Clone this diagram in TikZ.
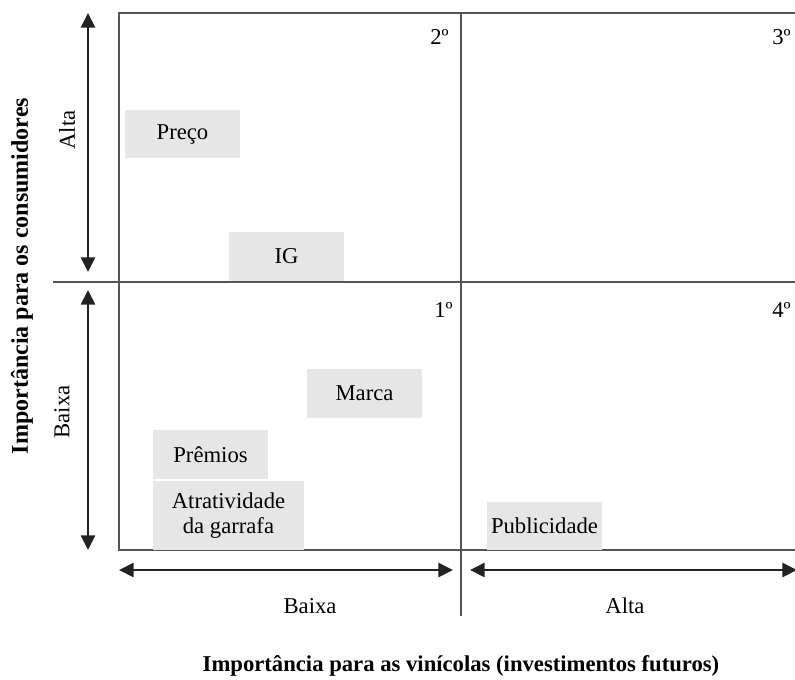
\documentclass[tikz,border=0pt]{standalone}
\usepackage{fontspec}
\setmainfont{Liberation Serif}
\usetikzlibrary{arrows.meta}
\definecolor{boxgray}{HTML}{E6E6E7}
\definecolor{framegray}{HTML}{555555}
\definecolor{arrowblack}{HTML}{222222}
\tikzset{
  qbox/.style={fill=boxgray, inner sep=0pt, align=center, font=\fontsize{17}{19}\selectfont},
  lbl/.style={inner sep=0pt, font=\fontsize{17}{19}\selectfont},
  ttl/.style={inner sep=0pt, font=\fontsize{17}{19}\selectfont\bfseries},
  frameline/.style={draw=framegray, line width=1.1pt},
  dblarrow/.style={draw=arrowblack, line width=2pt, {Triangle[width=10.5pt,length=11pt]}-{Triangle[width=10.5pt,length=11pt]}}
}
\begin{document}
\begin{tikzpicture}[x=0.75pt, y=-0.75pt]
\useasboundingbox (0,0) rectangle (795,679);
% frame
\draw[frameline] (795,13) -- (119,13) -- (119,550) -- (795,550);
\draw[frameline] (461,13) -- (461,616);
\draw[frameline] (53,282) -- (795,282);
% boxes
\node[qbox, minimum width=86.25pt, minimum height=36pt] (preco) at (182.5,134) {Preço};
\node[qbox, minimum width=86.25pt, minimum height=36.75pt] (ig) at (286.5,256.5) {IG};
\node[qbox, minimum width=86.25pt, minimum height=36.75pt] (marca) at (364.5,393.5) {Marca};
\node[qbox, minimum width=86.25pt, minimum height=36.75pt] (premios) at (210.5,454.5) {Prêmios};
\node[qbox, minimum width=113.25pt, minimum height=51.75pt] (atrat) at (228.5,515.5) {Atratividade\\da garrafa};
\node[qbox, minimum width=86.25pt, minimum height=36pt] (publi) at (544.5,526) {Publicidade};
% quadrant numbers
\node[lbl, anchor=east] (q2) at (449,37) {2º};
\node[lbl, anchor=east] (q3) at (791,37) {3º};
\node[lbl, anchor=east] (q1) at (453,310) {1º};
\node[lbl, anchor=east] (q4) at (791,310) {4º};
% arrows
\coordinate (va1) at (88,13);
\coordinate (vb1) at (88,272);
\coordinate (va2) at (88,290);
\coordinate (vb2) at (88,550);
\coordinate (ha1) at (119,570);
\coordinate (hb1) at (453,570);
\coordinate (ha2) at (470,570);
\coordinate (hb2) at (797,570);
\draw[dblarrow] (va1) -- (vb1);
\draw[dblarrow] (va2) -- (vb2);
\draw[dblarrow] (ha1) -- (hb1);
\draw[dblarrow] (ha2) -- (hb2);
% axis labels
\node[lbl, rotate=90] (alta-v) at (67,130) {Alta};
\node[lbl, rotate=90] (baixa-v) at (62,412) {Baixa};
\node[lbl] (baixa-h) at (310,606) {Baixa};
\node[lbl] (alta-h) at (625,606) {Alta};
\node[ttl, rotate=90, font=\fontsize{18}{20}\selectfont\bfseries] (ytitle) at (22,276) {Importância para os consumidores};
\node[ttl] (xtitle) at (461,666) {Importância para as vinícolas (investimentos futuros)};
\end{tikzpicture}
\end{document}
